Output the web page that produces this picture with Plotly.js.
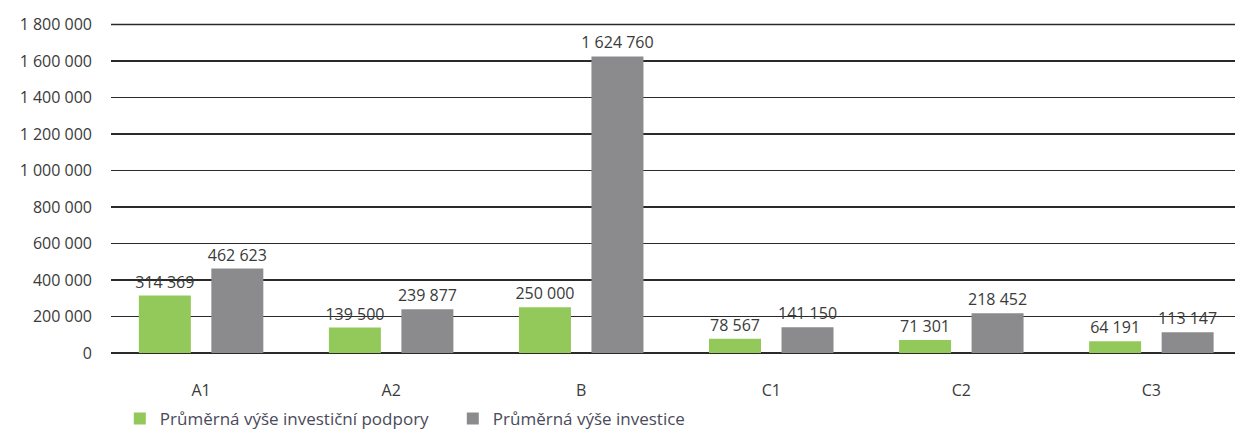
<!DOCTYPE html>
<html>
<head>
<meta charset="utf-8">
<script src="https://cdn.plot.ly/plotly-3.0.1.min.js"></script>
<style>html,body{margin:0;padding:0;background:#fff;}#chart{width:1235px;height:432px;}</style>
</head>
<body>
<div id="chart"></div>
<script>
const categories = ["A1", "A2", "B", "C1", "C2", "C3"];
const supportValues = [314369, 139500, 250000, 78567, 71301, 64191];
const investmentValues = [462623, 239877, 1624760, 141150, 218452, 113147];
const seriesNames = ["Průměrná výše investiční podpory", "Průměrná výše investice"];
const yTickStep = 200000;
const yTickMax = 1800000;

const font = "'Open Sans', 'DejaVu Sans', sans-serif";
const textColor = "#3a3a3a";
const gridColor = "#2a2a2a";

const traces = [
  {
    type: "bar", name: seriesNames[0], x: categories, y: supportValues,
    marker: {color: "#93c95a"},
    texttemplate: "%{y:,d}", textposition: "outside", cliponaxis: false, constraintext: "none",
    textfont: {family: font, size: 16, color: textColor}
  },
  {
    type: "bar", name: seriesNames[1], x: categories, y: investmentValues,
    marker: {color: "#8b8b8d"},
    texttemplate: "%{y:,d}", textposition: "outside", cliponaxis: false, constraintext: "none",
    textfont: {family: font, size: 16, color: textColor}
  }
];

const layout = {
  width: 1235, height: 432,
  margin: {l: 111, r: 0, t: 19, b: 79},
  paper_bgcolor: "#fff", plot_bgcolor: "#fff",
  separators: ", ",
  barmode: "group", bargap: 0.237, bargroupgap: 0.283,
  showlegend: true,
  legend: {orientation: "h", xref: "container", yref: "container",
           x: 0.097, xanchor: "left", y: 0.03, yanchor: "middle",
           font: {family: font, size: 17, color: "#4a4a5a"}, itemwidth: 30,
           entrywidth: 288, entrywidthmode: "pixels", traceorder: "normal"},
  xaxis: {
    type: "category", range: [-0.474, 5.44], automargin: false,
    showgrid: false, zeroline: false, showline: false, ticks: "",
    tickfont: {family: font, size: 16, color: textColor},
    ticklabelstandoff: 26
  },
  yaxis: {
    range: [0, 1830000], tickmode: "linear", tick0: 0, dtick: yTickStep,
    tickformat: ",d", automargin: false,
    showgrid: true, gridcolor: gridColor, gridwidth: 1.5,
    zeroline: true, zerolinecolor: gridColor, zerolinewidth: 1.5,
    showline: false, ticks: "",
    tickfont: {family: font, size: 16, color: textColor},
    ticklabelstandoff: 18
  },
  shapes: [
    {type: "line", xref: "paper", x0: 0, x1: 1, yref: "y", y0: yTickMax, y1: yTickMax,
     line: {color: gridColor, width: 1.5}, layer: "above"}
  ],
  font: {family: font, color: textColor}
};

Plotly.newPlot("chart", traces, layout, {staticPlot: true, displayModeBar: false});
</script>
</body>
</html>
